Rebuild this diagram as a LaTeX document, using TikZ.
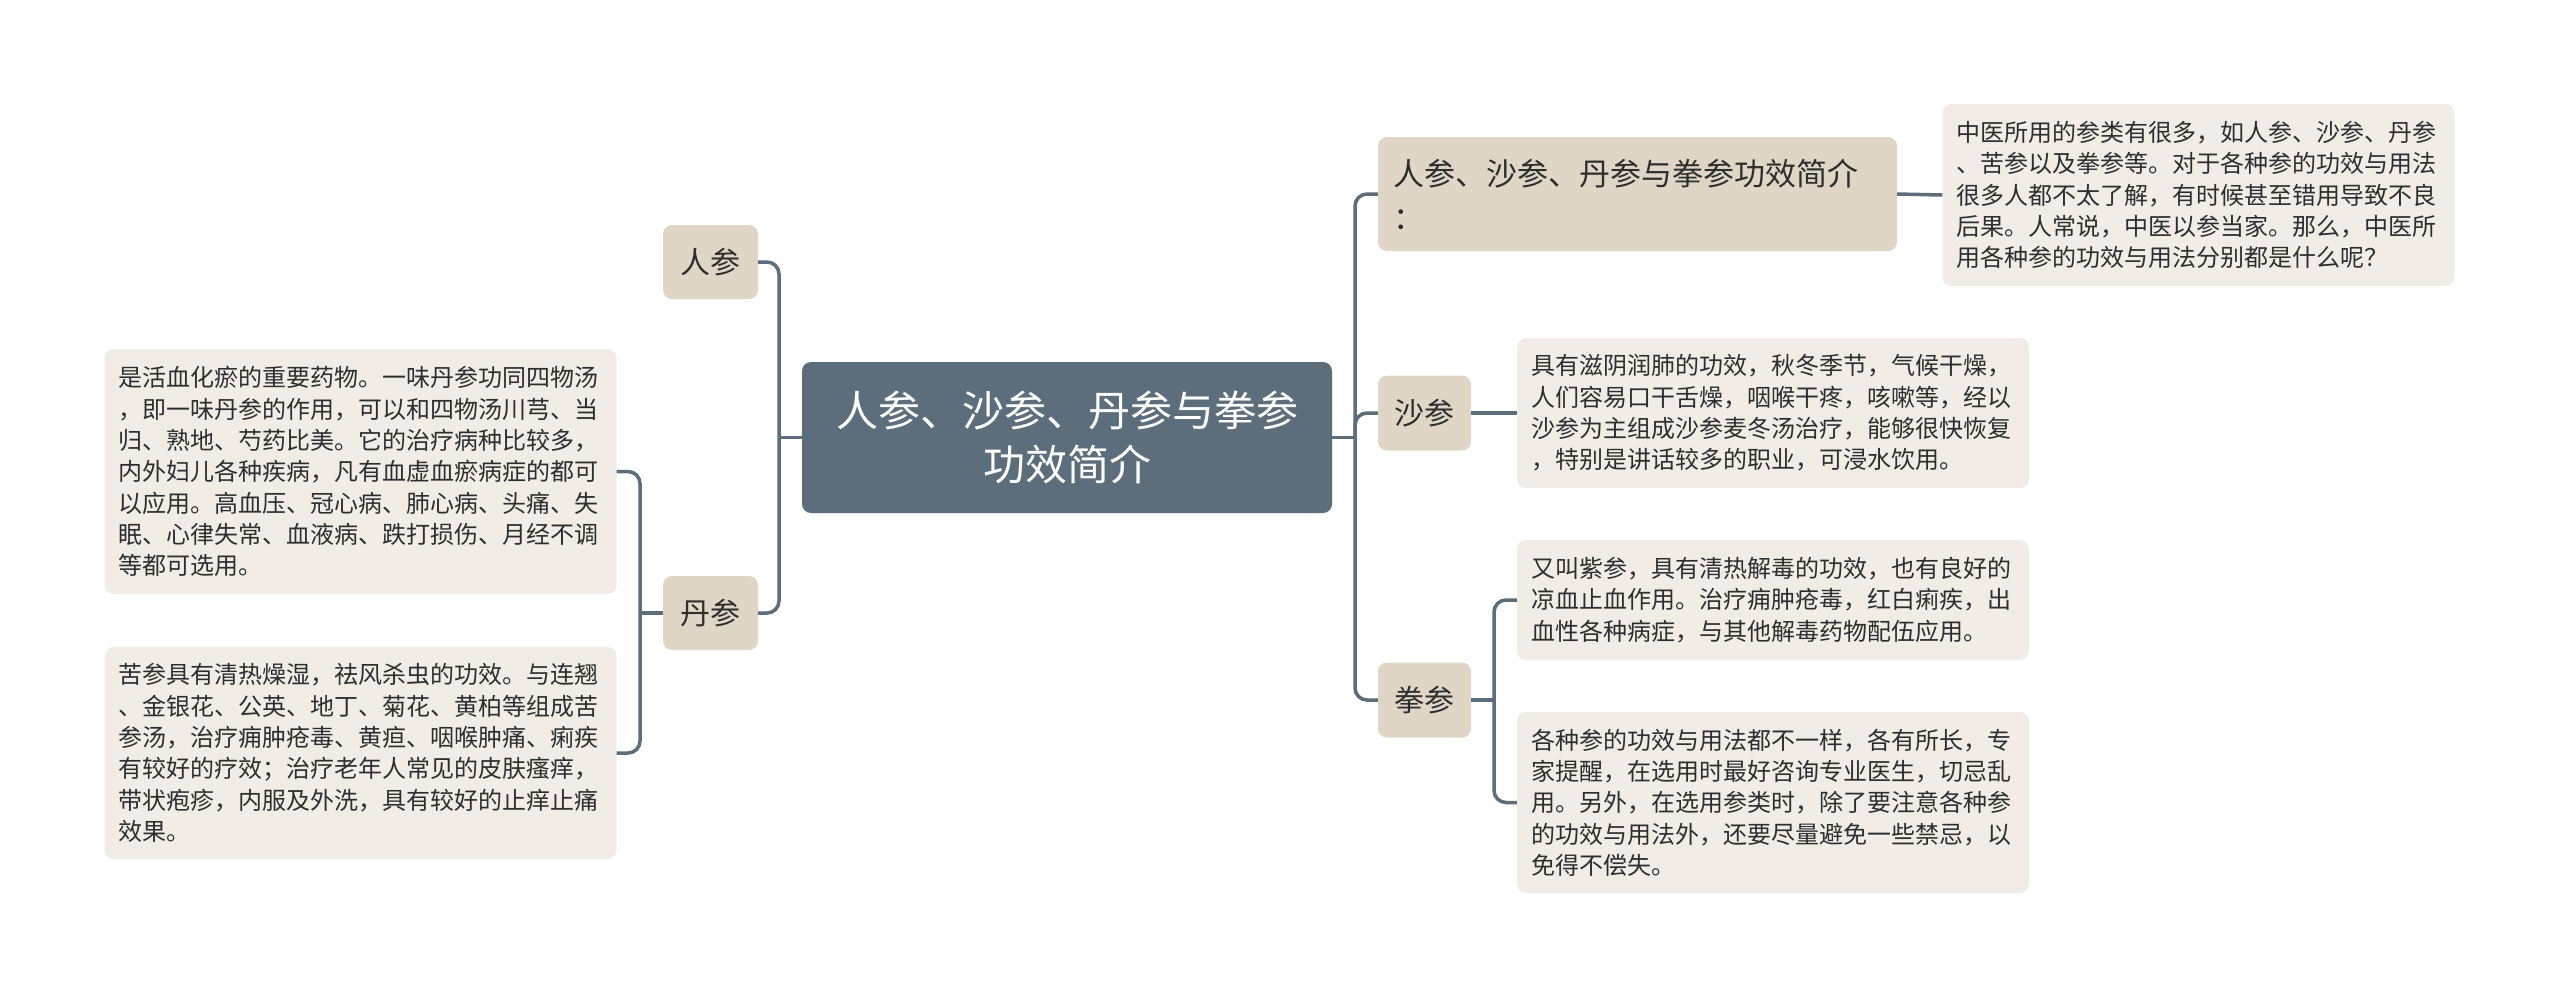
\documentclass[tikz,border=0pt]{standalone}
\usepackage{fontspec}
\setmainfont{Noto Sans CJK SC}
\definecolor{slate}{HTML}{5C6E7B}
\definecolor{beige}{HTML}{E0D6C6}
\definecolor{paper}{HTML}{F1EDE6}
\definecolor{ink}{HTML}{2E2E2E}
\tikzset{
  conn/.style={draw=slate, line width=3.5pt, rounded corners=12pt},
  rootbox/.style={fill=slate, rounded corners=9pt, minimum width=530pt, minimum height=151pt,
    text=white, align=center, font=\fontsize{42}{54}\selectfont, inner sep=0pt},
  catbox/.style={fill=beige, rounded corners=9pt, text=ink, inner sep=0pt,
    font=\fontsize{30}{44}\selectfont},
  infobox/.style={fill=paper, rounded corners=9pt, text=ink, inner xsep=14pt, inner ysep=0pt,
    minimum width=512pt, text width=484pt, align=left, font=\fontsize{24}{31.3}\selectfont},
}
\begin{document}
\begin{tikzpicture}[x=1pt,y=-1pt]
\useasboundingbox (0,0) rectangle (2560,997);
\fill[white] (0,0) rectangle (2560,997);

% root
\node[rootbox] (root) at (1067,437.5) {人参、沙参、丹参与拳参\\功效简介};

% left side
\node[catbox, minimum width=95pt, minimum height=74pt] (ren) at (710.5,262) {人参};
\node[catbox, minimum width=95pt, minimum height=74pt] (dan) at (710.5,613) {丹参};
\node[infobox, minimum height=245pt] (d1) at (360.5,471.5) {是活血化瘀的重要药物。一味丹参功同四物汤\\，即一味丹参的作用，可以和四物汤川芎、当\\归、熟地、芍药比美。它的治疗病种比较多，\\内外妇儿各种疾病，凡有血虚血瘀病症的都可\\以应用。高血压、冠心病、肺心病、头痛、失\\眠、心律失常、血液病、跌打损伤、月经不调\\等都可选用。};
\node[infobox, minimum height=212pt] (d2) at (360.5,753) {苦参具有清热燥湿，祛风杀虫的功效。与连翘\\、金银花、公英、地丁、菊花、黄柏等组成苦\\参汤，治疗痈肿疮毒、黄疸、咽喉肿痛、痢疾\\有较好的疗效；治疗老年人常见的皮肤瘙痒，\\带状疱疹，内服及外洗，具有较好的止痒止痛\\效果。};

% right side
\node[catbox, minimum width=519pt, minimum height=114pt, text width=489pt, inner xsep=15pt, align=left, font=\fontsize{31}{44}\selectfont] (head) at (1637.5,194) {人参、沙参、丹参与拳参功效简介\\：};
\node[infobox, minimum height=182pt] (intro) at (2198.5,195) {中医所用的参类有很多，如人参、沙参、丹参\\、苦参以及拳参等。对于各种参的功效与用法\\很多人都不太了解，有时候甚至错用导致不良\\后果。人常说，中医以参当家。那么，中医所\\用各种参的功效与用法分别都是什么呢？};
\node[catbox, minimum width=93pt, minimum height=75pt] (sha) at (1424.5,413) {沙参};
\node[infobox, minimum height=150pt] (shat) at (1773,413) {具有滋阴润肺的功效，秋冬季节，气候干燥，\\人们容易口干舌燥，咽喉干疼，咳嗽等，经以\\沙参为主组成沙参麦冬汤治疗，能够很快恢复\\，特别是讲话较多的职业，可浸水饮用。};
\node[catbox, minimum width=93pt, minimum height=75pt] (quan) at (1424.5,700) {拳参};
\node[infobox, minimum height=120pt] (q1) at (1773,600) {又叫紫参，具有清热解毒的功效，也有良好的\\凉血止血作用。治疗痈肿疮毒，红白痢疾，出\\血性各种病症，与其他解毒药物配伍应用。};
\node[infobox, minimum height=181pt] (q2) at (1773,802.5) {各种参的功效与用法都不一样，各有所长，专\\家提醒，在选用时最好咨询专业医生，切忌乱\\用。另外，在选用参类时，除了要注意各种参\\的功效与用法外，还要尽量避免一些禁忌，以\\免得不偿失。};

% trunks
\coordinate (tL) at (779,437.5);
\coordinate (tR) at (1355,437.5);
\coordinate (tD) at (640,613);
\coordinate (tQ) at (1494,700);

% connectors
\draw[conn] (root.west) -- (tL);
\draw[conn] (ren.east) -| (tL);
\draw[conn] (dan.east) -| (tL);
\draw[conn] (root.east) -- (tR);
\draw[conn] (tR) |- (head.west);
\draw[conn] (tR) |- (sha.west);
\draw[conn] (tR) |- (quan.west);
\draw[conn] (head.east) -- (intro.west);
\draw[conn] (sha.east) -- (shat.west);
\draw[conn] (quan.east) -- (tQ);
\draw[conn] (tQ) |- (q1.west);
\draw[conn] (tQ) |- (q2.west);
\draw[conn] (dan.west) -- (tD);
\draw[conn] (tD) |- (d1.east);
\draw[conn] (tD) |- (d2.east);
\end{tikzpicture}
\end{document}
